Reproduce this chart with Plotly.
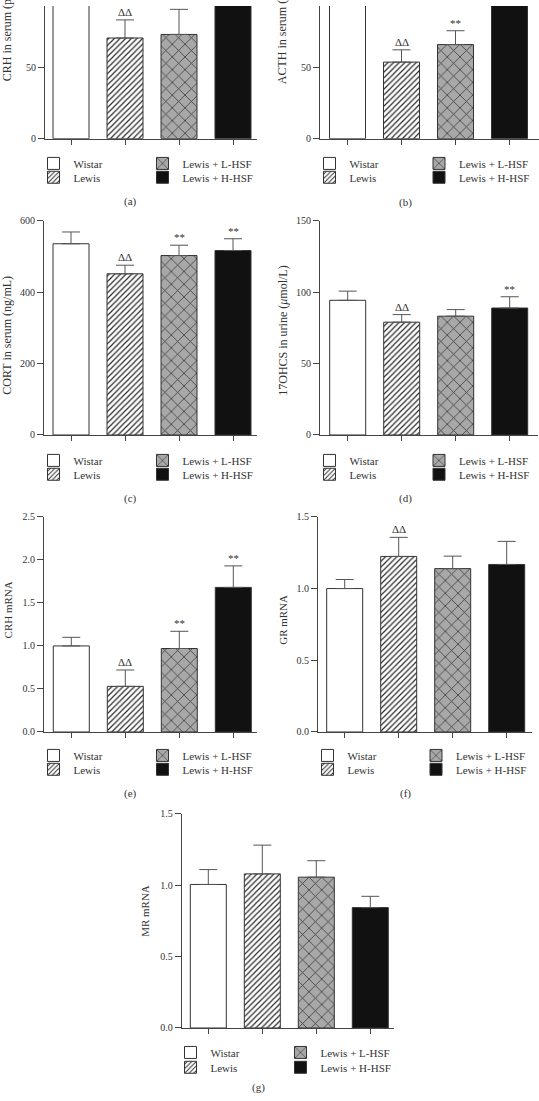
import plotly.graph_objects as go

# ---------------- data ----------------
groups = ["Wistar", "Lewis", "Lewis + L-HSF", "Lewis + H-HSF"]

# (a) CRH in serum (Wistar / H-HSF bars run beyond the cropped top of the figure)
crh_serum = [118, 70.6, 73.1, 112]
crh_serum_err = [10, 12.7, 17.6, 10]
# (b) ACTH in serum
acth_serum = [112, 53.7, 66.0, 105]
acth_serum_err = [10, 8.6, 9.7, 10]
# (c) CORT in serum
cort_serum = [535, 451, 502, 516]
cort_serum_err = [33, 24, 29, 33]
# (d) 17OHCS in urine
ohcs_urine = [94.2, 78.9, 83.1, 88.8]
ohcs_urine_err = [6.4, 5.3, 4.6, 7.9]
# (e) CRH mRNA
crh_mrna = [1.00, 0.53, 0.97, 1.68]
crh_mrna_err = [0.10, 0.19, 0.20, 0.25]
# (f) GR mRNA
gr_mrna = [1.00, 1.224, 1.139, 1.168]
gr_mrna_err = [0.063, 0.133, 0.087, 0.161]
# (g) MR mRNA
mr_mrna = [1.004, 1.078, 1.055, 0.842]
mr_mrna_err = [0.104, 0.201, 0.115, 0.079]

sig_a = ["", "ΔΔ", "", ""]
sig_b = ["", "ΔΔ", "**", ""]
sig_c = ["", "ΔΔ", "**", "**"]
sig_d = ["", "ΔΔ", "", "**"]
sig_e = ["", "ΔΔ", "**", "**"]
sig_f = ["", "ΔΔ", "", ""]
sig_g = ["", "", "", ""]

titles = ["CRH in serum (pg/mL)", "ACTH in serum (pg/mL)", "CORT in serum (ng/mL)",
          "17OHCS in urine (<i>μ</i>mol/L)", "CRH mRNA", "GR mRNA", "MR mRNA"]
captions = ["(a)", "(b)", "(c)", "(d)", "(e)", "(f)", "(g)"]

# ---------------- layout / style ----------------
W, H = 539, 1101
FONT = "Liberation Serif, Times New Roman, serif"
TXT = "#333333"
AX = "#444444"
SPACING = 54.0
BARW = 36.0 / SPACING

styles = [
    dict(color="white", pattern=dict(shape="")),
    dict(color="white", pattern=dict(shape="/", bgcolor="white", fgcolor="#2a2a2a", size=4, solidity=0.3, fillmode="replace")),
    dict(color="#a8a8a8", pattern=dict(shape="x", bgcolor="#a8a8a8", fgcolor="#333333", size=9, solidity=0.16, fillmode="replace")),
    dict(color="#111111", pattern=dict(shape="")),
]

# layout spec per panel (pixels)
panels = [
    dict(v=crh_serum, e=crh_serum_err, s=sig_a, yr=[0, 93.05], dt=50, fmt="d",
         yx=45, right=257, c0=71, top=0, bot=134, rows=(162, 176), sw=(53.5, 162.5),
         cap=(130, 197), tp=(7, 78, "bottom"), tf=12),
    dict(v=acth_serum, e=acth_serum_err, s=sig_b, yr=[0, 93.05], dt=50, fmt="d",
         yx=320, right=539, c0=347.5, top=0, bot=134, rows=(162, 176), sw=(329.5, 439),
         cap=(405, 198), tp=(282, 81, "bottom"), tf=12),
    dict(v=cort_serum, e=cort_serum_err, s=sig_c, yr=[0, 600], dt=200, fmt="d",
         yx=44, right=257, c0=71, top=216.7, bot=433.3, rows=(462, 476), sw=(53.5, 162.5),
         cap=(130, 497), tp=(7, 333, "middle"), tf=12),
    dict(v=ohcs_urine, e=ohcs_urine_err, s=sig_d, yr=[0, 150], dt=50, fmt="d",
         yx=320, right=538, c0=347.7, top=216.7, bot=433.3, rows=(462, 476), sw=(329.5, 439),
         cap=(405, 497), tp=(283, 328, "middle"), tf=12),
    dict(v=crh_mrna, e=crh_mrna_err, s=sig_e, yr=[0, 2.5], dt=0.5, fmt=".1f",
         yx=44, right=257, c0=71.3, top=516, bot=733.3, rows=(760, 774), sw=(53.5, 162.5),
         cap=(130, 795), tp=(7.5, 610, "middle"), tf=11),
    dict(v=gr_mrna, e=gr_mrna_err, s=sig_f, yr=[0, 1.5], dt=0.5, fmt=".1f",
         yx=318, right=532, c0=344.7, top=516, bot=733.3, rows=(760, 774), sw=(327.5, 436),
         cap=(405, 795), tp=(283, 620, "middle"), tf=11),
    dict(v=mr_mrna, e=mr_mrna_err, s=sig_g, yr=[0, 1.5], dt=0.5, fmt=".1f",
         yx=181.7, right=394, c0=208.3, top=815.7, bot=1032.3, rows=(1060, 1075), sw=(190.5, 300.5),
         cap=(258, 1092), tp=(145, 914, "middle"), tf=11),
]


def px_x(p):
    return p / W


def px_y(p):
    return 1 - p / H


fig = go.Figure()
layout = dict(width=W, height=H, margin=dict(l=0, r=0, t=0, b=0),
              paper_bgcolor="white", plot_bgcolor="white", barmode="overlay",
              showlegend=True, font=dict(family=FONT, color=TXT, size=11))
annotations = []
legend_idx = 0

for pi, p in enumerate(panels):
    n = pi + 1
    xa = "x" if n == 1 else f"x{n}"
    ya = "y" if n == 1 else f"y{n}"
    xkey = "xaxis" if n == 1 else f"xaxis{n}"
    ykey = "yaxis" if n == 1 else f"yaxis{n}"
    xr = [(p["yx"] - p["c0"]) / SPACING, (p["right"] - p["c0"]) / SPACING]
    layout[xkey] = dict(domain=[px_x(p["yx"]), px_x(p["right"])], range=xr, anchor=ya,
                        showline=True, linecolor=AX, linewidth=1, ticks="outside",
                        tickvals=[0, 1, 2, 3], ticklen=5, tickcolor=AX, tickwidth=1,
                        showticklabels=False, showgrid=False, zeroline=False, fixedrange=True)
    layout[ykey] = dict(domain=[px_y(p["bot"]), px_y(p["top"])], range=p["yr"], anchor=xa,
                        showline=True, linecolor=AX, linewidth=1, ticks="outside",
                        dtick=p["dt"], tick0=0, tickformat=p["fmt"], ticklen=6, tickcolor=AX,
                        tickwidth=1, showgrid=False, zeroline=False,
                        tickfont=dict(family=FONT, size=10, color=TXT), fixedrange=True)
    for i, g in enumerate(groups):
        legend_idx += 1
        lname = "legend" if legend_idx == 1 else f"legend{legend_idx}"
        st = styles[i]
        fig.add_trace(go.Bar(
            x=[i], y=[p["v"][i]], width=[BARW], name=g, xaxis=xa, yaxis=ya,
            legend=lname, showlegend=True, hoverinfo="skip",
            marker=dict(color=st["color"], line=dict(color="#333333", width=1), pattern=st["pattern"]),
            error_y=dict(type="data", array=[p["e"][i]], arrayminus=[0], symmetric=False,
                         color="#555555", thickness=1, width=9),
        ))
        col = 0 if i < 2 else 1
        row = i % 2
        layout[lname] = dict(x=px_x(p["sw"][col] - 20), y=px_y(p["rows"][row] - 3),
                             xanchor="left", yanchor="middle", bgcolor="rgba(0,0,0,0)",
                             borderwidth=0, font=dict(family=FONT, size=11, color=TXT),
                             tracegroupgap=0)
        if p["s"][i] and p["v"][i] + p["e"][i] < p["yr"][1]:
            annotations.append(dict(x=i, y=p["v"][i] + p["e"][i], xref=xa, yref=ya,
                                    text=p["s"][i], showarrow=False, yanchor="bottom",
                                    font=dict(family=FONT, size=11, color=TXT)))
    tx, ty, tanchor = p["tp"]
    annotations.append(dict(x=px_x(tx), y=px_y(ty), xref="paper", yref="paper",
                            text=titles[pi], showarrow=False, textangle=-90,
                            xanchor="center", yanchor=tanchor,
                            font=dict(family=FONT, size=p["tf"], color=TXT)))
    cx, cy = p["cap"]
    annotations.append(dict(x=px_x(cx), y=px_y(cy), xref="paper", yref="paper",
                            text=captions[pi], showarrow=False, xanchor="center", yanchor="middle",
                            font=dict(family=FONT, size=11, color=TXT)))

layout["annotations"] = annotations
fig.update_layout(**layout)
fig.write_html("out.html",
               config={"displayModeBar": False, "staticPlot": True},
               post_script="document.body.style.margin='0px';"
                           "document.documentElement.style.overflow='hidden';")
